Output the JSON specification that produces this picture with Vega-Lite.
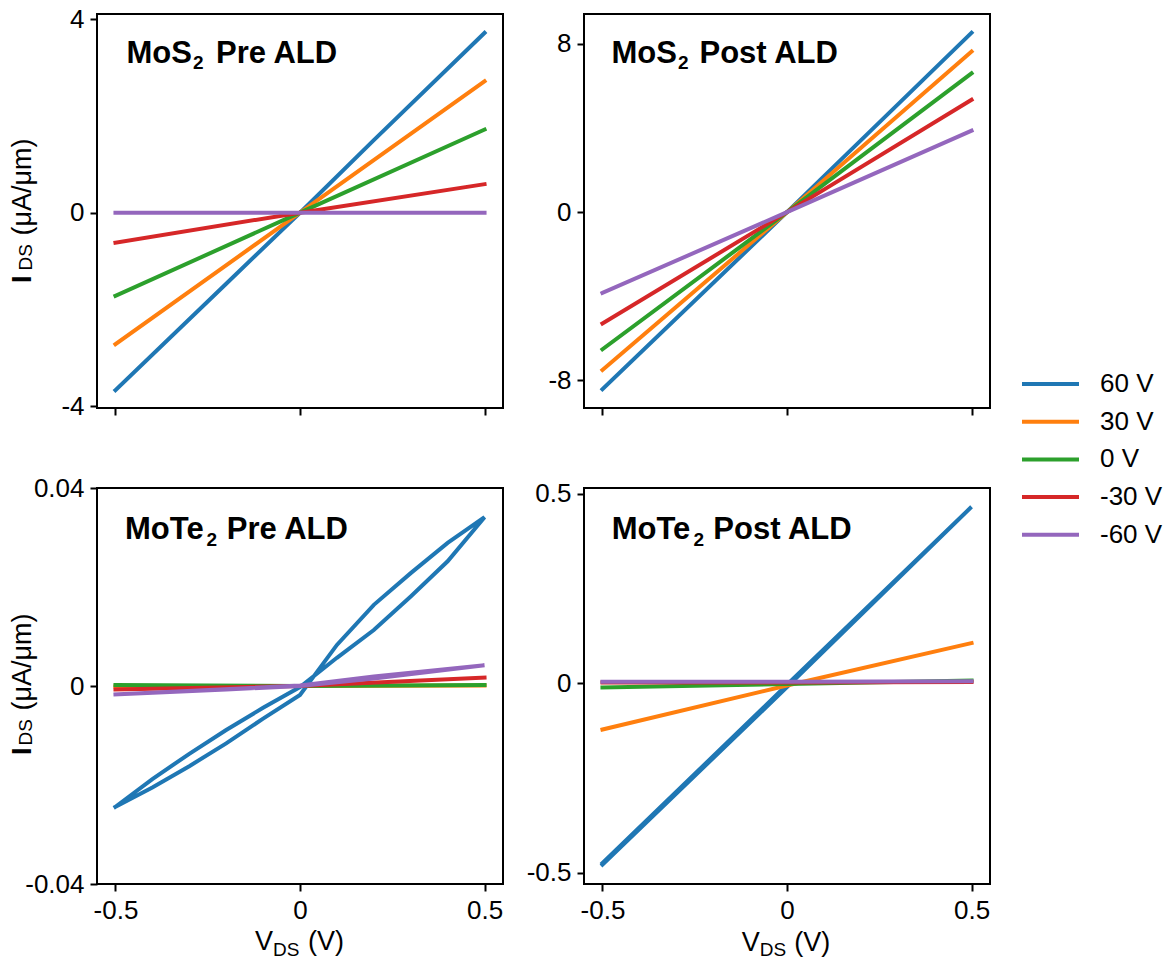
{
  "$schema": "https://vega.github.io/schema/vega-lite/v6.json",
  "background": "white",
  "padding": {"left": 8, "top": 5, "right": 5, "bottom": 5},
  "bounds": "flush",
  "columns": 2,
  "spacing": {"row": 80, "column": 81},
  "resolve": {"scale": {"x": "independent", "y": "independent", "color": "shared"}},
  "config": {
    "view": {"stroke": "black", "strokeWidth": 2},
    "axis": {"domain": false, "grid": false, "ticks": true, "tickColor": "black", "tickWidth": 2, "tickSize": 7, "labelFont": "Liberation Sans", "labelFontSize": 26, "labelColor": "black", "labelPadding": 6},
    "text": {"font": "Liberation Sans", "color": "black"},
    "line": {"strokeWidth": 4, "strokeCap": "square"}
  },
  "datasets": {
    "iv": [
      {"p": "a", "g": "60 V", "i": 0, "v": -0.5, "c": -3.67},
      {"p": "a", "g": "60 V", "i": 1, "v": -0.2, "c": -1.47},
      {"p": "a", "g": "60 V", "i": 2, "v": 0, "c": 0},
      {"p": "a", "g": "60 V", "i": 3, "v": 0.2, "c": 1.5},
      {"p": "a", "g": "60 V", "i": 4, "v": 0.5, "c": 3.72},
      {"p": "a", "g": "30 V", "i": 0, "v": -0.5, "c": -2.72},
      {"p": "a", "g": "30 V", "i": 1, "v": 0, "c": 0},
      {"p": "a", "g": "30 V", "i": 2, "v": 0.5, "c": 2.72},
      {"p": "a", "g": "0 V", "i": 0, "v": -0.5, "c": -1.72},
      {"p": "a", "g": "0 V", "i": 1, "v": 0, "c": 0},
      {"p": "a", "g": "0 V", "i": 2, "v": 0.5, "c": 1.72},
      {"p": "a", "g": "-30 V", "i": 0, "v": -0.5, "c": -0.62},
      {"p": "a", "g": "-30 V", "i": 1, "v": 0, "c": 0},
      {"p": "a", "g": "-30 V", "i": 2, "v": 0.5, "c": 0.59},
      {"p": "a", "g": "-60 V", "i": 0, "v": -0.5, "c": 0},
      {"p": "a", "g": "-60 V", "i": 1, "v": 0, "c": 0},
      {"p": "a", "g": "-60 V", "i": 2, "v": 0.5, "c": 0},

      {"p": "b", "g": "60 V", "i": 0, "v": -0.5, "c": -8.42},
      {"p": "b", "g": "60 V", "i": 1, "v": 0, "c": 0},
      {"p": "b", "g": "60 V", "i": 2, "v": 0.5, "c": 8.53},
      {"p": "b", "g": "30 V", "i": 0, "v": -0.5, "c": -7.5},
      {"p": "b", "g": "30 V", "i": 1, "v": 0, "c": 0},
      {"p": "b", "g": "30 V", "i": 2, "v": 0.5, "c": 7.63},
      {"p": "b", "g": "0 V", "i": 0, "v": -0.5, "c": -6.52},
      {"p": "b", "g": "0 V", "i": 1, "v": 0, "c": 0},
      {"p": "b", "g": "0 V", "i": 2, "v": 0.5, "c": 6.6},
      {"p": "b", "g": "-30 V", "i": 0, "v": -0.5, "c": -5.29},
      {"p": "b", "g": "-30 V", "i": 1, "v": 0, "c": 0},
      {"p": "b", "g": "-30 V", "i": 2, "v": 0.5, "c": 5.34},
      {"p": "b", "g": "-60 V", "i": 0, "v": -0.5, "c": -3.84},
      {"p": "b", "g": "-60 V", "i": 1, "v": 0, "c": 0},
      {"p": "b", "g": "-60 V", "i": 2, "v": 0.5, "c": 3.87},

      {"p": "c", "g": "60 V", "i": 0, "v": -0.5, "c": -0.0244},
      {"p": "c", "g": "60 V", "i": 1, "v": -0.4, "c": -0.0188},
      {"p": "c", "g": "60 V", "i": 2, "v": -0.3, "c": -0.0137},
      {"p": "c", "g": "60 V", "i": 3, "v": -0.2, "c": -0.0089},
      {"p": "c", "g": "60 V", "i": 4, "v": -0.1, "c": -0.0044},
      {"p": "c", "g": "60 V", "i": 5, "v": 0, "c": -0.0002},
      {"p": "c", "g": "60 V", "i": 6, "v": 0.1, "c": 0.0057},
      {"p": "c", "g": "60 V", "i": 7, "v": 0.2, "c": 0.0113},
      {"p": "c", "g": "60 V", "i": 8, "v": 0.3, "c": 0.0181},
      {"p": "c", "g": "60 V", "i": 9, "v": 0.4, "c": 0.0252},
      {"p": "c", "g": "60 V", "i": 10, "v": 0.5, "c": 0.0341},
      {"p": "c", "g": "60 V", "i": 11, "v": 0.4, "c": 0.0289},
      {"p": "c", "g": "60 V", "i": 12, "v": 0.3, "c": 0.0228},
      {"p": "c", "g": "60 V", "i": 13, "v": 0.2, "c": 0.0164},
      {"p": "c", "g": "60 V", "i": 14, "v": 0.1, "c": 0.0083},
      {"p": "c", "g": "60 V", "i": 15, "v": 0, "c": -0.0018},
      {"p": "c", "g": "60 V", "i": 16, "v": -0.1, "c": -0.0066},
      {"p": "c", "g": "60 V", "i": 17, "v": -0.2, "c": -0.0116},
      {"p": "c", "g": "60 V", "i": 18, "v": -0.3, "c": -0.0162},
      {"p": "c", "g": "60 V", "i": 19, "v": -0.4, "c": -0.0205},
      {"p": "c", "g": "60 V", "i": 20, "v": -0.5, "c": -0.0244},
      {"p": "c", "g": "30 V", "i": 0, "v": -0.5, "c": -0.0001},
      {"p": "c", "g": "30 V", "i": 1, "v": 0, "c": 0},
      {"p": "c", "g": "30 V", "i": 2, "v": 0.5, "c": 0.0001},
      {"p": "c", "g": "0 V", "i": 0, "v": -0.5, "c": 0.0002},
      {"p": "c", "g": "0 V", "i": 1, "v": 0, "c": 0},
      {"p": "c", "g": "0 V", "i": 2, "v": 0.5, "c": 0.0002},
      {"p": "c", "g": "-30 V", "i": 0, "v": -0.5, "c": -0.0007},
      {"p": "c", "g": "-30 V", "i": 1, "v": 0, "c": 0},
      {"p": "c", "g": "-30 V", "i": 2, "v": 0.5, "c": 0.0017},
      {"p": "c", "g": "-60 V", "i": 0, "v": -0.5, "c": -0.0017},
      {"p": "c", "g": "-60 V", "i": 1, "v": -0.2, "c": -0.0007},
      {"p": "c", "g": "-60 V", "i": 2, "v": 0, "c": 0},
      {"p": "c", "g": "-60 V", "i": 3, "v": 0.2, "c": 0.0015},
      {"p": "c", "g": "-60 V", "i": 4, "v": 0.5, "c": 0.0042},
      {"p": "c", "g": "-60 V", "i": 5, "v": 0.2, "c": 0.0019},
      {"p": "c", "g": "-60 V", "i": 6, "v": 0, "c": 0.0001},
      {"p": "c", "g": "-60 V", "i": 7, "v": -0.5, "c": -0.0017},

      {"p": "d", "g": "60 V", "i": 0, "v": -0.5, "c": -0.478},
      {"p": "d", "g": "60 V", "i": 1, "v": 0, "c": -0.01},
      {"p": "d", "g": "60 V", "i": 2, "v": 0.5, "c": 0.465},
      {"p": "d", "g": "60 V", "i": 3, "v": 0, "c": -0.004},
      {"p": "d", "g": "60 V", "i": 4, "v": -0.5, "c": -0.474},
      {"p": "d", "g": "30 V", "i": 0, "v": -0.5, "c": -0.122},
      {"p": "d", "g": "30 V", "i": 1, "v": 0, "c": -0.006},
      {"p": "d", "g": "30 V", "i": 2, "v": 0.5, "c": 0.106},
      {"p": "d", "g": "0 V", "i": 0, "v": -0.5, "c": -0.011},
      {"p": "d", "g": "0 V", "i": 1, "v": 0, "c": -0.002},
      {"p": "d", "g": "0 V", "i": 2, "v": 0.5, "c": 0.007},
      {"p": "d", "g": "-30 V", "i": 0, "v": -0.5, "c": 0.002},
      {"p": "d", "g": "-30 V", "i": 1, "v": 0, "c": 0.002},
      {"p": "d", "g": "-30 V", "i": 2, "v": 0.5, "c": 0.003},
      {"p": "d", "g": "-60 V", "i": 0, "v": -0.5, "c": 0.004},
      {"p": "d", "g": "-60 V", "i": 1, "v": 0, "c": 0.004},
      {"p": "d", "g": "-60 V", "i": 2, "v": 0.5, "c": 0.005}
    ],
    "ann": [
      {"p": "a", "k": "t", "v": -0.4702, "c": 3.102, "t": "MoS"},
      {"p": "a", "k": "ts", "v": -0.2899, "c": 2.978, "t": "2"},
      {"p": "a", "k": "t", "v": -0.2276, "c": 3.102, "t": "Pre ALD"},
      {"p": "a", "k": "yb", "v": -0.7288, "c": -1.455, "t": "I"},
      {"p": "a", "k": "ys", "v": -0.7261, "c": -1.196, "t": "DS"},
      {"p": "a", "k": "y", "v": -0.7288, "c": -0.472, "t": "(μA/μm)"},

      {"p": "b", "k": "t", "v": -0.4757, "c": 7.109, "t": "MoS"},
      {"p": "b", "k": "ts", "v": -0.2953, "c": 6.824, "t": "2"},
      {"p": "b", "k": "t", "v": -0.2371, "c": 7.109, "t": "Post ALD"},

      {"p": "c", "k": "t", "v": -0.4741, "c": 0.02964, "t": "MoTe"},
      {"p": "c", "k": "ts", "v": -0.2533, "c": 0.02832, "t": "2"},
      {"p": "c", "k": "t", "v": -0.1986, "c": 0.02964, "t": "Pre ALD"},
      {"p": "c", "k": "yb", "v": -0.7288, "c": -0.01394, "t": "I"},
      {"p": "c", "k": "ys", "v": -0.7261, "c": -0.01202, "t": "DS"},
      {"p": "c", "k": "y", "v": -0.7288, "c": -0.00495, "t": "(μA/μm)"},
      {"p": "c", "k": "x", "v": -0.122, "c": -0.05343, "t": "V"},
      {"p": "c", "k": "xs", "v": -0.0732, "c": -0.05455, "t": "DS"},
      {"p": "c", "k": "x", "v": 0.0217, "c": -0.05343, "t": "(V)"},

      {"p": "d", "k": "t", "v": -0.4749, "c": 0.3792, "t": "MoTe"},
      {"p": "d", "k": "ts", "v": -0.2533, "c": 0.3621, "t": "2"},
      {"p": "d", "k": "t", "v": -0.1997, "c": 0.3792, "t": "Post ALD"},
      {"p": "d", "k": "x", "v": -0.1227, "c": -0.7054, "t": "V"},
      {"p": "d", "k": "xs", "v": -0.074, "c": -0.7199, "t": "DS"},
      {"p": "d", "k": "x", "v": 0.0198, "c": -0.7054, "t": "(V)"}
    ]
  },
  "concat": [
    {
      "width": 406, "height": 394,
      "layer": [
        {
          "data": {"name": "iv"},
          "transform": [{"filter": "datum.p === 'a'"}],
          "mark": {"type": "line"},
          "encoding": {
            "x": {"field": "v", "type": "quantitative", "title": null, "scale": {"domain": [-0.55, 0.55], "nice": false, "zero": false}, "axis": {"values": [-0.5, 0, 0.5], "labels": false}},
            "y": {"field": "c", "type": "quantitative", "title": null, "scale": {"domain": [-4.04, 4.11], "nice": false, "zero": false}, "axis": {"values": [-4, 0, 4], "labelExpr": "toString(datum.value)"}},
            "color": {"field": "g", "type": "nominal", "scale": {"domain": ["60 V", "30 V", "0 V", "-30 V", "-60 V"], "range": ["#1f77b4", "#ff7f0e", "#2ca02c", "#d62728", "#9467bd"]}, "legend": {"orient": "none", "legendX": 923, "legendY": 355, "title": null, "symbolType": "stroke", "symbolSize": 3249, "symbolStrokeWidth": 4, "labelFontSize": 26, "labelFont": "Liberation Sans", "labelColor": "black", "clipHeight": 30, "rowPadding": 7.7, "labelOffset": 19}},
            "order": {"field": "i", "type": "quantitative"}
          }
        },
        {
          "data": {"name": "ann"},
          "transform": [{"filter": "datum.p === 'a' && datum.k === 't'"}],
          "mark": {"type": "text", "fontSize": 31, "fontWeight": "bold", "align": "left", "baseline": "alphabetic"},
          "encoding": {"x": {"field": "v", "type": "quantitative", "title": null}, "y": {"field": "c", "type": "quantitative", "title": null}, "text": {"field": "t"}}
        },
        {
          "data": {"name": "ann"},
          "transform": [{"filter": "datum.p === 'a' && datum.k === 'ts'"}],
          "mark": {"type": "text", "fontSize": 19, "fontWeight": "bold", "align": "left", "baseline": "alphabetic"},
          "encoding": {"x": {"field": "v", "type": "quantitative", "title": null}, "y": {"field": "c", "type": "quantitative", "title": null}, "text": {"field": "t"}}
        },
        {
          "data": {"name": "ann"},
          "transform": [{"filter": "datum.p === 'a' && datum.k === 'y'"}],
          "mark": {"type": "text", "fontSize": 27, "angle": 270, "align": "left", "baseline": "alphabetic"},
          "encoding": {"x": {"field": "v", "type": "quantitative", "title": null}, "y": {"field": "c", "type": "quantitative", "title": null}, "text": {"field": "t"}}
        },
        {
          "data": {"name": "ann"},
          "transform": [{"filter": "datum.p === 'a' && datum.k === 'yb'"}],
          "mark": {"type": "text", "fontSize": 27, "fontWeight": "bold", "angle": 270, "align": "left", "baseline": "alphabetic"},
          "encoding": {"x": {"field": "v", "type": "quantitative", "title": null}, "y": {"field": "c", "type": "quantitative", "title": null}, "text": {"field": "t"}}
        },
        {
          "data": {"name": "ann"},
          "transform": [{"filter": "datum.p === 'a' && datum.k === 'ys'"}],
          "mark": {"type": "text", "fontSize": 19, "angle": 270, "align": "left", "baseline": "alphabetic"},
          "encoding": {"x": {"field": "v", "type": "quantitative", "title": null}, "y": {"field": "c", "type": "quantitative", "title": null}, "text": {"field": "t"}}
        }
      ]
    },
    {
      "width": 406, "height": 394,
      "layer": [
        {
          "data": {"name": "iv"},
          "transform": [{"filter": "datum.p === 'b'"}],
          "mark": {"type": "line"},
          "encoding": {
            "x": {"field": "v", "type": "quantitative", "title": null, "scale": {"domain": [-0.55, 0.55], "nice": false, "zero": false}, "axis": {"values": [-0.5, 0, 0.5], "labels": false}},
            "y": {"field": "c", "type": "quantitative", "title": null, "scale": {"domain": [-9.31, 9.42], "nice": false, "zero": false}, "axis": {"values": [-8, 0, 8], "labelExpr": "toString(datum.value)"}},
            "color": {"field": "g", "type": "nominal", "scale": {"domain": ["60 V", "30 V", "0 V", "-30 V", "-60 V"], "range": ["#1f77b4", "#ff7f0e", "#2ca02c", "#d62728", "#9467bd"]}, "legend": {"orient": "none", "legendX": 923, "legendY": 355, "title": null, "symbolType": "stroke", "symbolSize": 3249, "symbolStrokeWidth": 4, "labelFontSize": 26, "labelFont": "Liberation Sans", "labelColor": "black", "clipHeight": 30, "rowPadding": 7.7, "labelOffset": 19}},
            "order": {"field": "i", "type": "quantitative"}
          }
        },
        {
          "data": {"name": "ann"},
          "transform": [{"filter": "datum.p === 'b' && datum.k === 't'"}],
          "mark": {"type": "text", "fontSize": 31, "fontWeight": "bold", "align": "left", "baseline": "alphabetic"},
          "encoding": {"x": {"field": "v", "type": "quantitative", "title": null}, "y": {"field": "c", "type": "quantitative", "title": null}, "text": {"field": "t"}}
        },
        {
          "data": {"name": "ann"},
          "transform": [{"filter": "datum.p === 'b' && datum.k === 'ts'"}],
          "mark": {"type": "text", "fontSize": 19, "fontWeight": "bold", "align": "left", "baseline": "alphabetic"},
          "encoding": {"x": {"field": "v", "type": "quantitative", "title": null}, "y": {"field": "c", "type": "quantitative", "title": null}, "text": {"field": "t"}}
        }
      ]
    },
    {
      "width": 406, "height": 396,
      "layer": [
        {
          "data": {"name": "iv"},
          "transform": [{"filter": "datum.p === 'c'"}],
          "mark": {"type": "line"},
          "encoding": {
            "x": {"field": "v", "type": "quantitative", "title": null, "scale": {"domain": [-0.55, 0.55], "nice": false, "zero": false}, "axis": {"values": [-0.5, 0, 0.5], "labelExpr": "toString(datum.value)"}},
            "y": {"field": "c", "type": "quantitative", "title": null, "scale": {"domain": [-0.04, 0.04], "nice": false, "zero": false}, "axis": {"values": [-0.04, 0, 0.04], "labelExpr": "toString(datum.value)"}},
            "color": {"field": "g", "type": "nominal", "scale": {"domain": ["60 V", "30 V", "0 V", "-30 V", "-60 V"], "range": ["#1f77b4", "#ff7f0e", "#2ca02c", "#d62728", "#9467bd"]}, "legend": {"orient": "none", "legendX": 923, "legendY": 355, "title": null, "symbolType": "stroke", "symbolSize": 3249, "symbolStrokeWidth": 4, "labelFontSize": 26, "labelFont": "Liberation Sans", "labelColor": "black", "clipHeight": 30, "rowPadding": 7.7, "labelOffset": 19}},
            "order": {"field": "i", "type": "quantitative"}
          }
        },
        {
          "data": {"name": "ann"},
          "transform": [{"filter": "datum.p === 'c' && datum.k === 't'"}],
          "mark": {"type": "text", "fontSize": 31, "fontWeight": "bold", "align": "left", "baseline": "alphabetic"},
          "encoding": {"x": {"field": "v", "type": "quantitative", "title": null}, "y": {"field": "c", "type": "quantitative", "title": null}, "text": {"field": "t"}}
        },
        {
          "data": {"name": "ann"},
          "transform": [{"filter": "datum.p === 'c' && datum.k === 'ts'"}],
          "mark": {"type": "text", "fontSize": 19, "fontWeight": "bold", "align": "left", "baseline": "alphabetic"},
          "encoding": {"x": {"field": "v", "type": "quantitative", "title": null}, "y": {"field": "c", "type": "quantitative", "title": null}, "text": {"field": "t"}}
        },
        {
          "data": {"name": "ann"},
          "transform": [{"filter": "datum.p === 'c' && datum.k === 'y'"}],
          "mark": {"type": "text", "fontSize": 27, "angle": 270, "align": "left", "baseline": "alphabetic"},
          "encoding": {"x": {"field": "v", "type": "quantitative", "title": null}, "y": {"field": "c", "type": "quantitative", "title": null}, "text": {"field": "t"}}
        },
        {
          "data": {"name": "ann"},
          "transform": [{"filter": "datum.p === 'c' && datum.k === 'yb'"}],
          "mark": {"type": "text", "fontSize": 27, "fontWeight": "bold", "angle": 270, "align": "left", "baseline": "alphabetic"},
          "encoding": {"x": {"field": "v", "type": "quantitative", "title": null}, "y": {"field": "c", "type": "quantitative", "title": null}, "text": {"field": "t"}}
        },
        {
          "data": {"name": "ann"},
          "transform": [{"filter": "datum.p === 'c' && datum.k === 'ys'"}],
          "mark": {"type": "text", "fontSize": 19, "angle": 270, "align": "left", "baseline": "alphabetic"},
          "encoding": {"x": {"field": "v", "type": "quantitative", "title": null}, "y": {"field": "c", "type": "quantitative", "title": null}, "text": {"field": "t"}}
        },
        {
          "data": {"name": "ann"},
          "transform": [{"filter": "datum.p === 'c' && datum.k === 'x'"}],
          "mark": {"type": "text", "fontSize": 27, "align": "left", "baseline": "alphabetic"},
          "encoding": {"x": {"field": "v", "type": "quantitative", "title": null}, "y": {"field": "c", "type": "quantitative", "title": null}, "text": {"field": "t"}}
        },
        {
          "data": {"name": "ann"},
          "transform": [{"filter": "datum.p === 'c' && datum.k === 'xs'"}],
          "mark": {"type": "text", "fontSize": 19, "align": "left", "baseline": "alphabetic"},
          "encoding": {"x": {"field": "v", "type": "quantitative", "title": null}, "y": {"field": "c", "type": "quantitative", "title": null}, "text": {"field": "t"}}
        }
      ]
    },
    {
      "width": 406, "height": 396,
      "layer": [
        {
          "data": {"name": "iv"},
          "transform": [{"filter": "datum.p === 'd'"}],
          "mark": {"type": "line"},
          "encoding": {
            "x": {"field": "v", "type": "quantitative", "title": null, "scale": {"domain": [-0.55, 0.55], "nice": false, "zero": false}, "axis": {"values": [-0.5, 0, 0.5], "labelExpr": "toString(datum.value)"}},
            "y": {"field": "c", "type": "quantitative", "title": null, "scale": {"domain": [-0.529, 0.5145], "nice": false, "zero": false}, "axis": {"values": [-0.5, 0, 0.5], "labelExpr": "toString(datum.value)"}},
            "color": {"field": "g", "type": "nominal", "scale": {"domain": ["60 V", "30 V", "0 V", "-30 V", "-60 V"], "range": ["#1f77b4", "#ff7f0e", "#2ca02c", "#d62728", "#9467bd"]}, "legend": {"orient": "none", "legendX": 923, "legendY": 355, "title": null, "symbolType": "stroke", "symbolSize": 3249, "symbolStrokeWidth": 4, "labelFontSize": 26, "labelFont": "Liberation Sans", "labelColor": "black", "clipHeight": 30, "rowPadding": 7.7, "labelOffset": 19}},
            "order": {"field": "i", "type": "quantitative"}
          }
        },
        {
          "data": {"name": "ann"},
          "transform": [{"filter": "datum.p === 'd' && datum.k === 't'"}],
          "mark": {"type": "text", "fontSize": 31, "fontWeight": "bold", "align": "left", "baseline": "alphabetic"},
          "encoding": {"x": {"field": "v", "type": "quantitative", "title": null}, "y": {"field": "c", "type": "quantitative", "title": null}, "text": {"field": "t"}}
        },
        {
          "data": {"name": "ann"},
          "transform": [{"filter": "datum.p === 'd' && datum.k === 'ts'"}],
          "mark": {"type": "text", "fontSize": 19, "fontWeight": "bold", "align": "left", "baseline": "alphabetic"},
          "encoding": {"x": {"field": "v", "type": "quantitative", "title": null}, "y": {"field": "c", "type": "quantitative", "title": null}, "text": {"field": "t"}}
        },
        {
          "data": {"name": "ann"},
          "transform": [{"filter": "datum.p === 'd' && datum.k === 'x'"}],
          "mark": {"type": "text", "fontSize": 27, "align": "left", "baseline": "alphabetic"},
          "encoding": {"x": {"field": "v", "type": "quantitative", "title": null}, "y": {"field": "c", "type": "quantitative", "title": null}, "text": {"field": "t"}}
        },
        {
          "data": {"name": "ann"},
          "transform": [{"filter": "datum.p === 'd' && datum.k === 'xs'"}],
          "mark": {"type": "text", "fontSize": 19, "align": "left", "baseline": "alphabetic"},
          "encoding": {"x": {"field": "v", "type": "quantitative", "title": null}, "y": {"field": "c", "type": "quantitative", "title": null}, "text": {"field": "t"}}
        }
      ]
    }
  ]
}
